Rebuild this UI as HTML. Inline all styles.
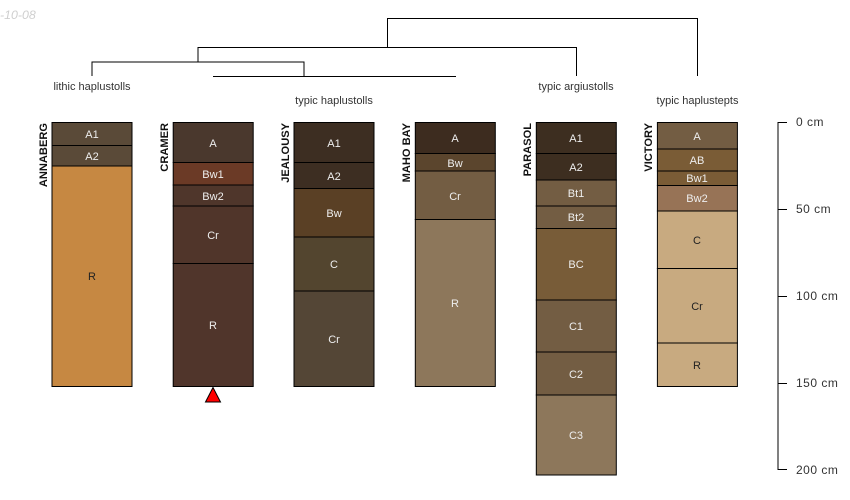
<!DOCTYPE html>
<html><head><meta charset="utf-8"><style>
html,body{margin:0;padding:0;background:#fff}
svg{display:block}
text{font-family:"Liberation Sans",sans-serif;font-size:11px;text-anchor:middle}
.h{fill:#eee}.d{fill:#222}
.n{font-weight:bold;fill:#111;font-size:11.1px;text-anchor:end}
.t{fill:#333}
.s{text-anchor:start;fill:#333;font-size:12px;letter-spacing:.5px}
rect{stroke:#000;stroke-width:1}
</style></head><body>
<svg width="850" height="500" viewBox="0 0 850 500" xmlns="http://www.w3.org/2000/svg">
<text x="0" y="19" style="text-anchor:start;font-style:italic;font-size:12.400px;fill:#cfcfcf">-10-08</text>
<g fill="none" stroke="#000" stroke-width="1">
<path d="M387.500 47.500V18.500H697.500V76"/>
<path d="M198 62V47.500H576.500V76"/>
<path d="M92 76V62H304V76"/>
<path d="M213 76.500H456"/>
</g>
<text class="t" x="92" y="90">lithic haplustolls</text>
<text class="t" x="334" y="104">typic haplustolls</text>
<text class="t" x="576" y="90">typic argiustolls</text>
<text class="t" x="697.500" y="104">typic haplustepts</text>

<g>
<rect x="52" y="122.500" width="80" height="23" fill="#5a4a38"/>
<rect x="52" y="145.500" width="80" height="20.500" fill="#5a4a38"/>
<rect x="52" y="166" width="80" height="220.500" fill="#c68842"/>
<text class="h" x="92" y="138">A1</text><text class="h" x="92" y="160">A2</text><text class="d" x="92" y="280">R</text>
<text class="n" transform="translate(47,123) rotate(-90)">ANNABERG</text>
</g>
<g>
<rect x="173.200" y="122.500" width="80" height="40" fill="#4a382d"/>
<rect x="173.200" y="162.500" width="80" height="22.500" fill="#6b3a26"/>
<rect x="173.200" y="185" width="80" height="21" fill="#4f362b"/>
<rect x="173.200" y="206" width="80" height="57.500" fill="#50352a"/>
<rect x="173.200" y="263.500" width="80" height="123" fill="#50352b"/>
<text class="h" x="213" y="147">A</text><text class="h" x="213" y="178">Bw1</text><text class="h" x="213" y="200">Bw2</text><text class="h" x="213" y="239">Cr</text><text class="h" x="213" y="329">R</text>
<text class="n" transform="translate(168,123) rotate(-90)">CRAMER</text>
<path d="M213 387.500L220.500 402H205.500Z" fill="#f00" stroke="#000" stroke-width="1"/>
</g>
<g>
<rect x="294" y="122.500" width="80" height="40" fill="#3d2e22"/>
<rect x="294" y="162.500" width="80" height="26" fill="#3d2e22"/>
<rect x="294" y="188.500" width="80" height="48.500" fill="#5a4025"/>
<rect x="294" y="237" width="80" height="54" fill="#53452f"/>
<rect x="294" y="291" width="80" height="95.500" fill="#544636"/>
<text class="h" x="334" y="147">A1</text><text class="h" x="334" y="180">A2</text><text class="h" x="334" y="217">Bw</text><text class="h" x="334" y="268">C</text><text class="h" x="334" y="343">Cr</text>
<text class="n" transform="translate(289,123) rotate(-90)">JEALOUSY</text>
</g>
<g>
<rect x="415.300" y="122.500" width="80" height="31" fill="#3d2c1f"/>
<rect x="415.300" y="153.500" width="80" height="17.500" fill="#5b452d"/>
<rect x="415.300" y="171" width="80" height="48.500" fill="#735d43"/>
<rect x="415.300" y="219.500" width="80" height="167" fill="#8d775b"/>
<text class="h" x="455" y="142">A</text><text class="h" x="455" y="167">Bw</text><text class="h" x="455" y="200">Cr</text><text class="h" x="455" y="307">R</text>
<text class="n" transform="translate(410,123) rotate(-90)">MAHO BAY</text>
</g>
<g>
<rect x="536.300" y="122.500" width="80" height="31" fill="#3d2e20"/>
<rect x="536.300" y="153.500" width="80" height="26.500" fill="#3d2e20"/>
<rect x="536.300" y="180" width="80" height="26" fill="#735d43"/>
<rect x="536.300" y="206" width="80" height="22.500" fill="#735d43"/>
<rect x="536.300" y="228.500" width="80" height="71.500" fill="#785c38"/>
<rect x="536.300" y="300" width="80" height="52" fill="#735d43"/>
<rect x="536.300" y="352" width="80" height="43" fill="#735d43"/>
<rect x="536.300" y="395" width="80" height="80" fill="#8d775b"/>
<text class="h" x="576" y="142">A1</text><text class="h" x="576" y="171">A2</text><text class="h" x="576" y="197">Bt1</text><text class="h" x="576" y="221">Bt2</text><text class="h" x="576" y="268">BC</text><text class="h" x="576" y="330">C1</text><text class="h" x="576" y="378">C2</text><text class="h" x="576" y="439">C3</text>
<text class="n" transform="translate(531,123) rotate(-90)">PARASOL</text>
</g>
<g>
<rect x="657.400" y="122.500" width="80" height="26.500" fill="#735d43"/>
<rect x="657.400" y="149" width="80" height="22" fill="#7a5c36"/>
<rect x="657.400" y="171" width="80" height="14.500" fill="#7a5c36"/>
<rect x="657.400" y="185.500" width="80" height="25.500" fill="#977356"/>
<rect x="657.400" y="211" width="80" height="57.500" fill="#c8aa80"/>
<rect x="657.400" y="268.500" width="80" height="74.500" fill="#c8aa80"/>
<rect x="657.400" y="343" width="80" height="43.500" fill="#c8aa80"/>
<text class="h" x="697" y="140">A</text><text class="h" x="697" y="164">AB</text><text class="h" x="697" y="182">Bw1</text><text class="h" x="697" y="202">Bw2</text><text class="d" x="697" y="244">C</text><text class="d" x="697" y="310">Cr</text><text class="d" x="697" y="369">R</text>
<text class="n" transform="translate(652,123) rotate(-90)">VICTORY</text>
</g>

<g fill="none" stroke="#000" stroke-width="1">
<path d="M787 122.500H778V469.500H787M778 209.500H787M778 296.500H787M778 383.500H787"/>
</g>
<text class="s" x="796" y="126">0 cm</text>
<text class="s" x="796" y="213">50 cm</text>
<text class="s" x="796" y="300">100 cm</text>
<text class="s" x="796" y="387">150 cm</text>
<text class="s" x="796" y="474">200 cm</text>
</svg>
</body></html>
